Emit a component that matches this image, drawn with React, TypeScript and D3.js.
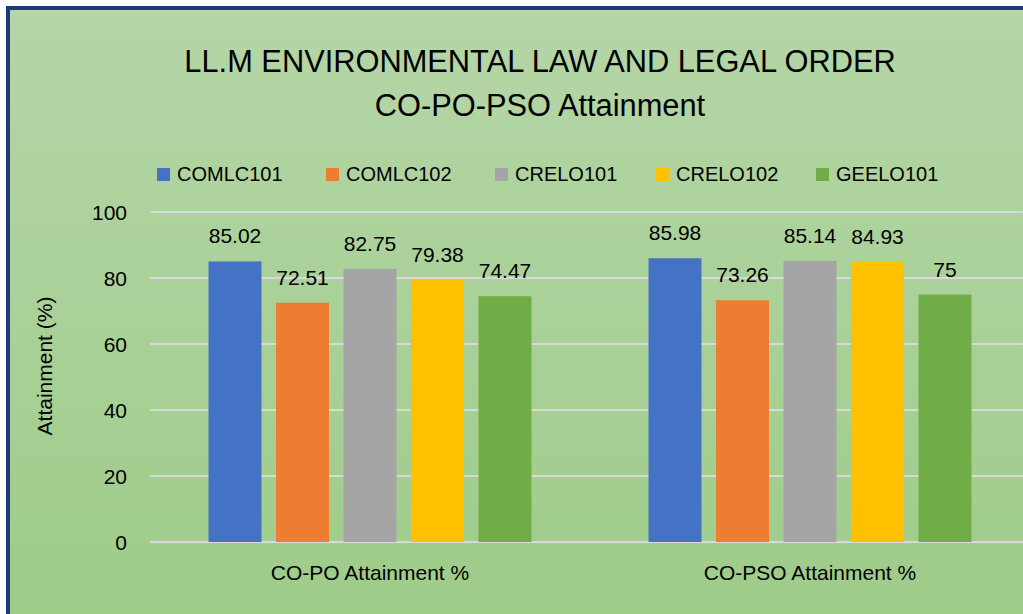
import React from "react";
import * as d3 from "d3";

const categories = ["CO-PO Attainment %", "CO-PSO Attainment %"];
const seriesNames = ["COMLC101", "COMLC102", "CRELO101", "CRELO102", "GEELO101"];
const coPoValues = [85.02, 72.51, 82.75, 79.38, 74.47];
const coPsoValues = [85.98, 73.26, 85.14, 84.93, 75];
const seriesColors = ["#4472c4", "#ed7d31", "#a5a5a5", "#ffc000", "#70ad47"];
const yTicks = [0, 20, 40, 60, 80, 100];
const titleLines = ["LL.M ENVIRONMENTAL LAW AND LEGAL ORDER", "CO-PO-PSO Attainment"];
const yAxisTitle = "Attainment (%)";

const W = 1023;
const H = 614;
const FONT = "'Liberation Sans', Arial, sans-serif";
const legendX = [157, 326, 495, 656, 816];

export default function App() {
  const valuesByCat = [coPoValues, coPsoValues];
  const x0 = d3.scaleBand<string>().domain(categories).range([150, 1030]).paddingInner(0).paddingOuter(0);
  const x1 = d3
    .scaleBand<string>()
    .domain(seriesNames)
    .range([58.5, 381.5])
    .paddingInner(0.215)
    .paddingOuter(0);
  const y = d3.scaleLinear().domain([0, 100]).range([542, 212]);
  const fmt = (v: number) => String(v);

  return (
    <svg
      width={W}
      height={H}
      style={{ position: "absolute", left: 0, top: 0, display: "block" }}
      fontFamily={FONT}
    >
      <defs>
        <linearGradient id="bg" x1="0" y1="0" x2="0" y2="1">
          <stop offset="0" stopColor="#b5d6a7" />
          <stop offset="1" stopColor="#9ccb87" />
        </linearGradient>
      </defs>
      <rect x={0} y={0} width={W} height={H} fill="#ffffff" />
      <rect x={8} y={8} width={W + 40} height={H + 40} fill="url(#bg)" stroke="#1f3a78" strokeWidth={4} />

      {titleLines.map((t, i) => (
        <text key={t} x={540} y={72 + i * 44} textAnchor="middle" fontSize={30.8} fill="#000">
          {t}
        </text>
      ))}

      {seriesNames.map((s, i) => (
        <g key={s}>
          <rect x={legendX[i]} y={168} width={13} height={13} fill={seriesColors[i]} />
          <text x={legendX[i] + 20} y={181} fontSize={20} fill="#000">
            {s}
          </text>
        </g>
      ))}

      {yTicks.map((t) => (
        <g key={t}>
          <line x1={150} x2={1030} y1={y(t)} y2={y(t)} stroke="#d9d9d9" strokeWidth={2} />
          <text x={127} y={y(t) + 7.5} textAnchor="end" fontSize={21} fill="#000">
            {t}
          </text>
        </g>
      ))}

      <text
        transform={`translate(52, ${366}) rotate(-90)`}
        textAnchor="middle"
        fontSize={21}
        fill="#000"
      >
        {yAxisTitle}
      </text>

      {categories.map((c, ci) => (
        <g key={c} transform={`translate(${x0(c)}, 0)`}>
          {seriesNames.map((s, si) => {
            const v = valuesByCat[ci][si];
            const bx = x1(s)!;
            return (
              <g key={s}>
                <rect x={bx} y={y(v)} width={x1.bandwidth()} height={y(0) - y(v)} fill={seriesColors[si]} />
                <text
                  x={bx + x1.bandwidth() / 2}
                  y={y(v) - 18}
                  textAnchor="middle"
                  fontSize={21}
                  fill="#000"
                >
                  {fmt(v)}
                </text>
              </g>
            );
          })}
          <text x={x0.bandwidth() / 2} y={580} textAnchor="middle" fontSize={21} fill="#000">
            {c}
          </text>
        </g>
      ))}
    </svg>
  );
}
